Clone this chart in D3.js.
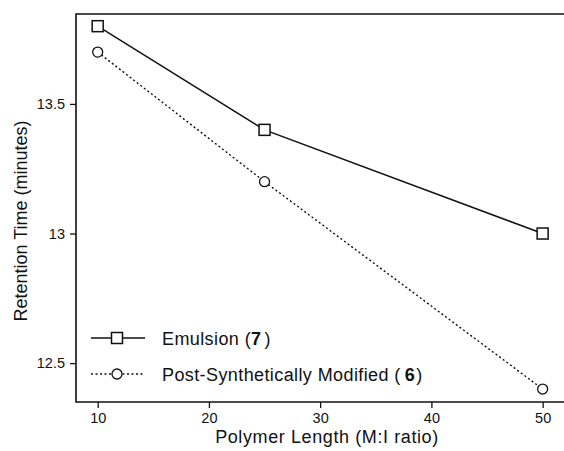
<!DOCTYPE html>
<html>
<head>
<meta charset="utf-8">
<script src="https://cdn.jsdelivr.net/npm/d3@7.9.0/dist/d3.min.js"></script>
<style>
  body { margin: 0; background: #fff; }
  svg { display: block; font-family: "Liberation Sans", Arial, sans-serif; }
</style>
</head>
<body>
<svg id="chart" width="564" height="451"></svg>
<script>
const lengths = [10, 25, 50];
const emulsion = [13.8, 13.4, 13.0];
const postModified = [13.7, 13.2, 12.4];
const xTicks = [10, 20, 30, 40, 50];
const yTicks = [12.5, 13, 13.5];

const svg = d3.select("#chart");
const plotL = 76, plotT = 14, plotR = 566, plotB = 402;

const x = d3.scaleLinear().domain([8.05, 52.1]).range([plotL, plotR]);
const y = d3.scaleLinear().domain([12.35, 13.847]).range([plotB, plotT]);

// axes
svg.append("g")
  .attr("transform", `translate(0,${plotB})`)
  .call(d3.axisBottom(x).tickValues(xTicks).tickSize(6).tickPadding(5).tickFormat(d3.format("d")))
  .call(g => g.select(".domain").remove())
  .call(g => g.selectAll("text").attr("font-size", 14.5).attr("fill", "#111"));

svg.append("g")
  .attr("transform", `translate(${plotL},0)`)
  .call(d3.axisLeft(y).tickValues(yTicks).tickSize(6).tickPadding(5).tickFormat(d => d))
  .call(g => g.select(".domain").remove())
  .call(g => g.selectAll("text").attr("font-size", 14.5).attr("fill", "#111"));

svg.selectAll(".tick line").attr("stroke", "#111").attr("stroke-width", 1.3);

// frame (left, top, bottom)
svg.append("path")
  .attr("d", `M${plotR},${plotT}H${plotL}V${plotB}H${plotR}`)
  .attr("fill", "none")
  .attr("stroke", "#111")
  .attr("stroke-width", 1.6);

// axis titles
svg.append("text")
  .attr("x", 327)
  .attr("y", 443)
  .attr("text-anchor", "middle")
  .attr("font-size", 18)
  .attr("letter-spacing", 0.6)
  .attr("fill", "#111")
  .text("Polymer Length (M:I ratio)");

svg.append("text")
  .attr("transform", `translate(27,221) rotate(-90)`)
  .attr("text-anchor", "middle")
  .attr("font-size", 18)
  .attr("fill", "#111")
  .text("Retention Time (minutes)");

const line = d3.line().x(d => x(d[0])).y(d => y(d[1]));
const emData = lengths.map((l, i) => [l, emulsion[i]]);
const pmData = lengths.map((l, i) => [l, postModified[i]]);

svg.append("path")
  .datum(emData)
  .attr("d", line)
  .attr("fill", "none")
  .attr("stroke", "#111")
  .attr("stroke-width", 1.5);

svg.append("path")
  .datum(pmData)
  .attr("d", line)
  .attr("fill", "none")
  .attr("stroke", "#111")
  .attr("stroke-width", 1.4)
  .attr("stroke-dasharray", "2,2.5");

const sq = 11;
svg.selectAll(".sq").data(emData).join("rect")
  .attr("x", d => x(d[0]) - sq / 2)
  .attr("y", d => y(d[1]) - sq / 2)
  .attr("width", sq).attr("height", sq)
  .attr("fill", "#fff").attr("stroke", "#111").attr("stroke-width", 1.5);

svg.selectAll(".ci").data(pmData).join("circle")
  .attr("cx", d => x(d[0]))
  .attr("cy", d => y(d[1]))
  .attr("r", 5)
  .attr("fill", "#fff").attr("stroke", "#111").attr("stroke-width", 1.3);

// legend
const lg = svg.append("g");
const rows = [
  { y: 338, dash: null, marker: "square", label: "Emulsion (", num: "7", end: ")", pre: 0, post: 3 },
  { y: 374, dash: "2,2.5", marker: "circle", label: "Post-Synthetically Modified (", num: "6", end: ")", pre: 4, post: 1 }
];
rows.forEach(r => {
  lg.append("line")
    .attr("x1", 91).attr("x2", 145).attr("y1", r.y).attr("y2", r.y)
    .attr("stroke", "#111").attr("stroke-width", r.dash ? 1.4 : 1.5)
    .attr("stroke-dasharray", r.dash);
  if (r.marker === "square") {
    lg.append("rect").attr("x", 117 - sq / 2).attr("y", r.y - sq / 2)
      .attr("width", sq).attr("height", sq)
      .attr("fill", "#fff").attr("stroke", "#111").attr("stroke-width", 1.5);
  } else {
    lg.append("circle").attr("cx", 117).attr("cy", r.y).attr("r", 5)
      .attr("fill", "#fff").attr("stroke", "#111").attr("stroke-width", 1.3);
  }
  const t = lg.append("text")
    .attr("x", 162).attr("y", r.y + 6.5)
    .attr("font-size", 18).attr("letter-spacing", 0.4).attr("fill", "#111");
  t.append("tspan").text(r.label);
  t.append("tspan").attr("dx", r.pre).attr("font-weight", "bold").text(r.num);
  t.append("tspan").attr("dx", r.post).text(r.end);
});
</script>
</body>
</html>
